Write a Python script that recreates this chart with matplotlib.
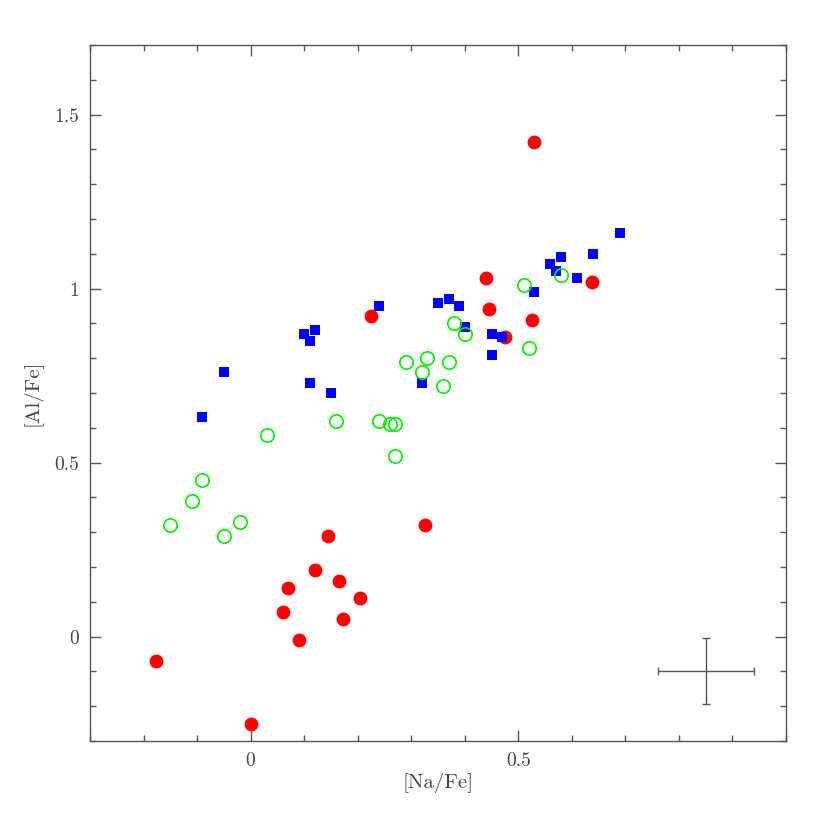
import matplotlib
matplotlib.use("Agg")
import matplotlib.pyplot as plt
from matplotlib.ticker import MultipleLocator, FixedLocator, FixedFormatter

# Data
red_x = [-0.177, 0.00, 0.06, 0.07, 0.09, 0.12, 0.145, 0.165, 0.172, 0.205, 0.225, 0.325,
         0.44, 0.445, 0.475, 0.525, 0.53, 0.637]
red_y = [-0.07, -0.25, 0.07, 0.14, -0.01, 0.19, 0.29, 0.16, 0.05, 0.11, 0.92, 0.32,
         1.03, 0.94, 0.86, 0.91, 1.42, 1.02]

blue_x = [-0.09, -0.05, 0.10, 0.12, 0.11, 0.11, 0.15, 0.24, 0.32, 0.35, 0.37, 0.39,
          0.40, 0.45, 0.47, 0.45, 0.53, 0.56, 0.57, 0.58, 0.61, 0.64, 0.69]
blue_y = [0.63, 0.76, 0.87, 0.88, 0.85, 0.73, 0.70, 0.95, 0.73, 0.96, 0.97, 0.95,
          0.89, 0.87, 0.86, 0.81, 0.99, 1.07, 1.05, 1.09, 1.03, 1.10, 1.16]

green_x = [-0.15, -0.11, -0.09, -0.05, -0.02, 0.03, 0.16, 0.24, 0.26, 0.27, 0.27,
           0.29, 0.32, 0.33, 0.36, 0.37, 0.38, 0.40, 0.51, 0.52, 0.58]
green_y = [0.32, 0.39, 0.45, 0.29, 0.33, 0.58, 0.62, 0.62, 0.61, 0.61, 0.52,
           0.79, 0.76, 0.80, 0.72, 0.79, 0.90, 0.87, 1.01, 0.83, 1.04]

err_x, err_y = 0.85, -0.10
err_dx, err_dy = 0.09, 0.095

x_ticks = [0, 0.5]
x_labels = ["0", "0.5"]
y_ticks = [0, 0.5, 1, 1.5]
y_labels = ["0", "0.5", "1", "1.5"]

plt.rcParams['font.family'] = ['cmr10', 'DejaVu Serif']
plt.rcParams['axes.formatter.use_mathtext'] = True

fig = plt.figure(figsize=(8.3, 8.3), dpi=100)
ax = fig.add_axes([90/830, 89/830, 696/830, 696/830])

ax.plot(red_x, red_y, 'o', color='red', markersize=10, markeredgewidth=0, zorder=3)
ax.plot(blue_x, blue_y, 's', color='blue', markersize=7.4, markeredgewidth=0, zorder=4)
ax.plot(green_x, green_y, 'o', markerfacecolor='none', markeredgecolor='#00ee00',
        markersize=9.6, markeredgewidth=1.2, zorder=5)

ax.errorbar([err_x], [err_y], xerr=[err_dx], yerr=[err_dy], fmt='none',
            ecolor='#555555', elinewidth=1.0, capsize=3, capthick=1.0, zorder=2)

ax.set_xlim(-0.3, 1.0)
ax.set_ylim(-0.3, 1.7)

ax.xaxis.set_major_locator(FixedLocator(x_ticks))
ax.xaxis.set_major_formatter(FixedFormatter(x_labels))
ax.yaxis.set_major_locator(FixedLocator(y_ticks))
ax.yaxis.set_major_formatter(FixedFormatter(y_labels))
ax.xaxis.set_minor_locator(MultipleLocator(0.1))
ax.yaxis.set_minor_locator(MultipleLocator(0.1))

ax.tick_params(which='both', direction='in', top=True, right=True,
               color='#555555', width=1.0, labelcolor='#444444', labelsize=14)
ax.tick_params(which='major', length=8, pad=8)
ax.tick_params(which='minor', length=4.3)

for s in ax.spines.values():
    s.set_color('#555555')
    s.set_linewidth(1.0)

ax.set_xlabel('[Na/Fe]', fontsize=15, color='#444444', labelpad=2)
ax.set_ylabel('[Al/Fe]', fontsize=15, color='#444444', labelpad=8)

fig.savefig('out.png', dpi=100)
